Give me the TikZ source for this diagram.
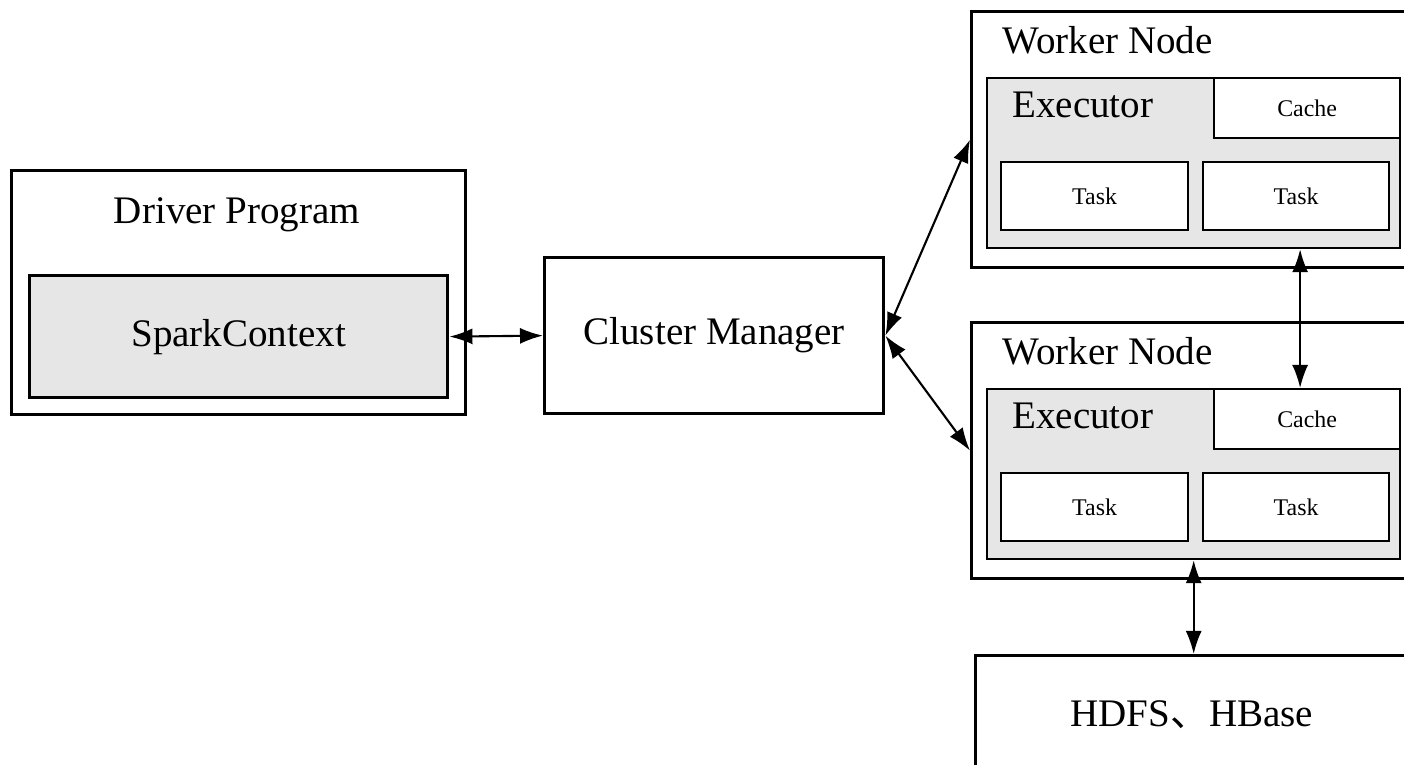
\documentclass[tikz,border=0pt]{standalone}
\usepackage{fontspec}
\setmainfont{Liberation Serif}
\newfontfamily\cjk{Noto Sans CJK SC}
\usetikzlibrary{arrows.meta}
\definecolor{boxgray}{HTML}{E6E6E6}
\tikzset{
  outerbox/.style={draw, line width=0.9pt, anchor=north west, inner sep=0pt},
  innerbox/.style={draw, line width=0.6pt, anchor=north west, inner sep=0pt},
  bigtext/.style={font=\fontsize{11.1}{13}\selectfont},
  smalltext/.style={font=\fontsize{6.8}{8}\selectfont},
  link/.style={{Latex[length=0.23cm,width=0.16cm]}-{Latex[length=0.23cm,width=0.16cm]}, line width=0.6pt}
}
\begin{document}
\begin{tikzpicture}[x=0.01cm, y=-0.01cm]
    \useasboundingbox (0,0) rectangle (1404,764);
    \node[outerbox, minimum width=4.54cm, minimum height=2.44cm] at (10,169) (driver) {};
    \node[bigtext] at (237,215) (drivertitle) {Driver Program};
    \node[outerbox, fill=boxgray, minimum width=4.18cm, minimum height=1.22cm, bigtext] at (28,274) (sc) {SparkContext};
    \node[outerbox, minimum width=3.39cm, minimum height=1.56cm, bigtext] at (543,256) (cm) {Cluster Manager};

    \node[outerbox, minimum width=4.40cm, minimum height=2.56cm] at (970,10) (w1) {};
    \node[bigtext, anchor=west] at (990,40) (w1title) {Worker Node};
    \node[innerbox, fill=boxgray, minimum width=4.13cm, minimum height=1.70cm] at (986,77) (e1) {};
    \node[bigtext, anchor=west] at (1000,105) (e1title) {Executor};
    \node[innerbox, fill=white, minimum width=1.86cm, minimum height=0.60cm, smalltext] at (1213,77) (c1) {Cache};
    \node[innerbox, fill=white, minimum width=1.87cm, minimum height=0.68cm, smalltext] at (1000,161) (t11) {Task};
    \node[innerbox, fill=white, minimum width=1.86cm, minimum height=0.68cm, smalltext] at (1202,161) (t12) {Task};

    \node[outerbox, minimum width=4.40cm, minimum height=2.56cm] at (970,321) (w2) {};
    \node[bigtext, anchor=west] at (990,351) (w2title) {Worker Node};
    \node[innerbox, fill=boxgray, minimum width=4.13cm, minimum height=1.70cm] at (986,388) (e2) {};
    \node[bigtext, anchor=west] at (1000,416) (e2title) {Executor};
    \node[innerbox, fill=white, minimum width=1.86cm, minimum height=0.60cm, smalltext] at (1213,388) (c2) {Cache};
    \node[innerbox, fill=white, minimum width=1.87cm, minimum height=0.68cm, smalltext] at (1000,472) (t21) {Task};
    \node[innerbox, fill=white, minimum width=1.86cm, minimum height=0.68cm, smalltext] at (1202,472) (t22) {Task};

    \node[outerbox, minimum width=4.32cm, minimum height=1.18cm, bigtext] at (974,654) (hdfs) {HDFS{\cjk 、}HBase};

    \coordinate (c2top) at ([xshift=-0.07cm]c2.north);
    \draw[link] (sc.east) -- (cm.west);
    \draw[link] (cm.east) -- (w1.west);
    \draw[link] (cm.east) -- (w2.west);
    \draw[link] (c2top |- e1.south) -- (c2top);
    \draw[link] (e2.south) -- (e2.south |- hdfs.north);
\end{tikzpicture}
\end{document}
